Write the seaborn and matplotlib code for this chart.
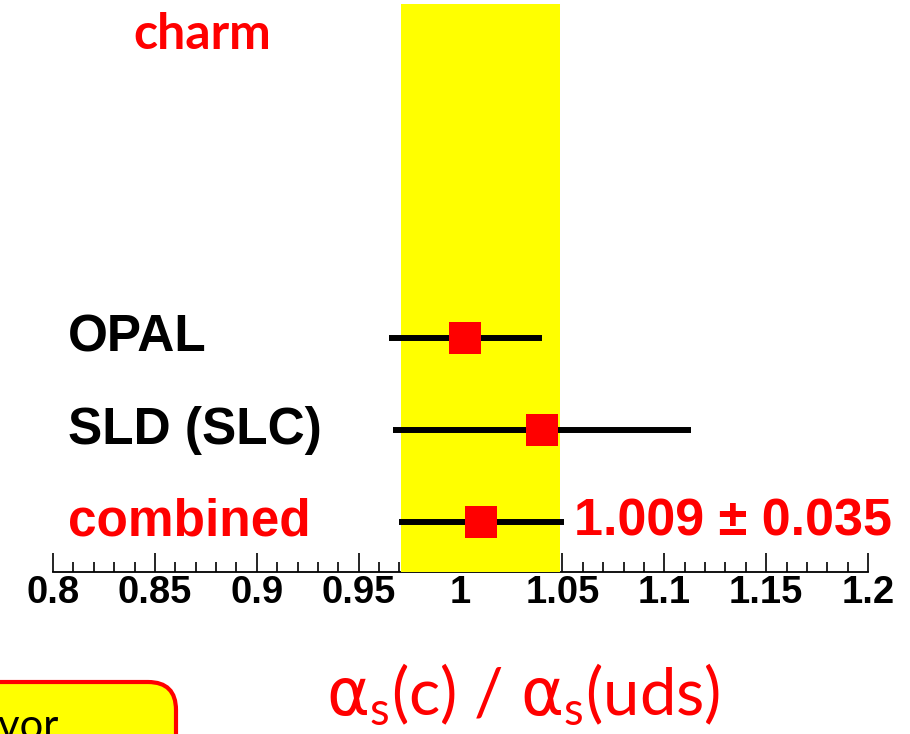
import matplotlib
matplotlib.use("Agg")
import matplotlib.pyplot as plt
from matplotlib.patches import FancyBboxPatch
from matplotlib.ticker import MultipleLocator
import numpy as np
import pandas as pd
import seaborn as sns

# values
experiments = ["OPAL", "SLD (SLC)", "combined"]
central = [1.002, 1.040, 1.010]
err_low = [0.037, 0.073, 0.040]
err_high = [0.038, 0.073, 0.041]
label_colors = ["black", "black", "red"]
row_pos = [2, 1, 0]
band = [0.971, 1.049]
x_ticks = [0.8, 0.85, 0.9, 0.95, 1.0, 1.05, 1.1, 1.15, 1.2]
x_tick_labels = ["0.8", "0.85", "0.9", "0.95", "1", "1.05", "1.1", "1.15", "1.2"]
combined_text = "1.009 \u00b1 0.035"

df = pd.DataFrame({
    "experiment": experiments,
    "value": central,
    "lo": np.array(central) - np.array(err_low),
    "hi": np.array(central) + np.array(err_high),
    "row": row_pos,
})

sns.set_theme(style="white")
plt.rcParams["font.family"] = ["Liberation Sans", "DejaVu Sans"]
plt.rcParams["mathtext.fontset"] = "dejavusans"
plt.rcParams["text.color"] = "black"

fig = plt.figure(figsize=(9.1, 7.34), dpi=100)
ax = fig.add_axes([53 / 910, 162 / 734, 815 / 910, 568 / 734])

ax.axvspan(band[0], band[1], ymin=0, ymax=1, color="#ffff00", lw=0, zorder=3)
ax.hlines(df["row"], df["lo"], df["hi"], color="black", lw=4.3, zorder=4)
sns.scatterplot(data=df, x="value", y="row", marker="s", s=23 ** 2, color="red",
                edgecolor="none", linewidth=0, ax=ax, zorder=5, legend=False)

ax.set_xlim(0.8, 1.2)
ax.set_ylim(-0.543, 5.63)
ax.set_xticks(x_ticks)
ax.set_xticklabels(x_tick_labels, fontsize=27.5, fontweight="bold", color="black")
ax.xaxis.set_minor_locator(MultipleLocator(0.01))
ax.tick_params(axis="x", which="major", direction="in", length=13.7, width=1.2,
               pad=2.5, color="black", labelcolor="black", bottom=True)
ax.tick_params(axis="x", which="minor", direction="in", length=7.2, width=1.2,
               color="black", bottom=True)
ax.set_yticks([])
ax.set_xlabel("")
ax.set_ylabel("")
for side in ["top", "left", "right"]:
    ax.spines[side].set_visible(False)
ax.spines["bottom"].set_color("black")
ax.spines["bottom"].set_linewidth(1.3)
ax.patch.set_alpha(0)

for name, row, col in zip(experiments, row_pos, label_colors):
    ax.text(0.8074, row, name, fontsize=37, fontweight="bold", color=col,
            ha="left", va="center", zorder=6)

ax.text(1.0555, row_pos[2], combined_text, fontsize=37.5, fontweight="bold",
        color="red", ha="left", va="center", zorder=6)

fig.text(133 / 910, 1 - 49 / 734, "charm", fontsize=36, fontweight="bold",
         color="red", family=["Lato", "DejaVu Sans"], ha="left", va="baseline")

fig.text(523 / 910, 1 - 695 / 734,
         r"$\mathrm{\alpha}_\mathregular{s}$(c) / $\mathrm{\alpha}_\mathregular{s}$(uds)",
         fontsize=47, color="red", family=["Lato", "DejaVu Sans"],
         ha="center", va="center")

box = FancyBboxPatch((-0.3, -0.6), 2.06, 1.12, boxstyle="round,pad=0,rounding_size=0.28",
                     transform=fig.dpi_scale_trans, facecolor="#ffff00",
                     edgecolor="red", lw=3, zorder=1)
fig.patches.append(box)
fig.text(58 / 910, 1 - 739 / 734, "flavor", fontsize=30, color="black",
         family=["Lato", "DejaVu Sans"], ha="right", va="baseline", zorder=2)

fig.savefig("out.png", dpi=100)
